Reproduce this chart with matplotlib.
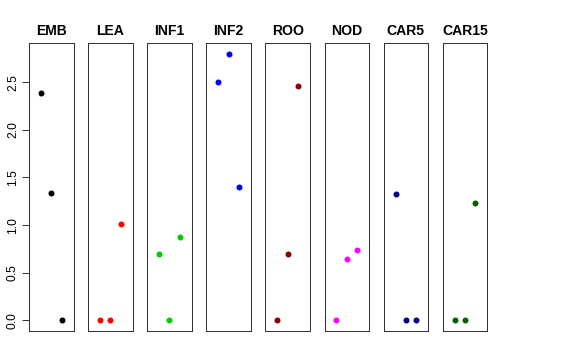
import numpy as np
import matplotlib.pyplot as plt

plt.rcParams['font.family'] = ['Liberation Sans', 'DejaVu Sans']

# tissues and the three values per tissue
tissues = ['EMB', 'LEA', 'INF1', 'INF2', 'ROO', 'NOD', 'CAR5', 'CAR15']
values = [
    [2.39, 1.34, 0.0],
    [0.0, 0.0, 1.01],
    [0.70, 0.0, 0.875],
    [2.50, 2.80, 1.40],
    [0.0, 0.70, 2.46],
    [0.0, 0.645, 0.74],
    [1.33, 0.0, 0.0],
    [0.0, 0.0, 1.23],
]
colors = ['black', 'red', '#00CD00', 'blue', '#8B0000', 'magenta', '#00008B', '#006400']
xpos = [1, 2, 3]

fig = plt.figure(figsize=(8, 5), dpi=72)
W, H = 576.0, 360.0
left0 = 29.0
pitch = 59.1
pw = 44.5
top = 43.0
bottom = 331.0

for i, name in enumerate(tissues):
    ax = fig.add_axes([(left0 + i * pitch) / W, (H - bottom) / H, pw / W, (bottom - top) / H])
    ax.plot(xpos, values[i], 'o', color=colors[i], markersize=6, markeredgewidth=0)
    ax.set_xlim(-0.16, 4.16)
    ax.set_ylim(-0.112, 2.912)
    ax.set_xticks([])
    for s in ax.spines.values():
        s.set_color('#333333')
        s.set_linewidth(1)
    ax.set_title(name, fontsize=14, fontweight='bold', pad=8)
    if i == 0:
        ax.set_yticks([0, 0.5, 1.0, 1.5, 2.0, 2.5])
        ax.set_yticklabels(['0.0', '0.5', '1.0', '1.5', '2.0', '2.5'], rotation=90, va='center', fontsize=12)
        ax.tick_params(axis='y', length=7, width=1, color='#333333', pad=3)
    else:
        ax.set_yticks([])

fig.savefig('out.png', dpi=72)
